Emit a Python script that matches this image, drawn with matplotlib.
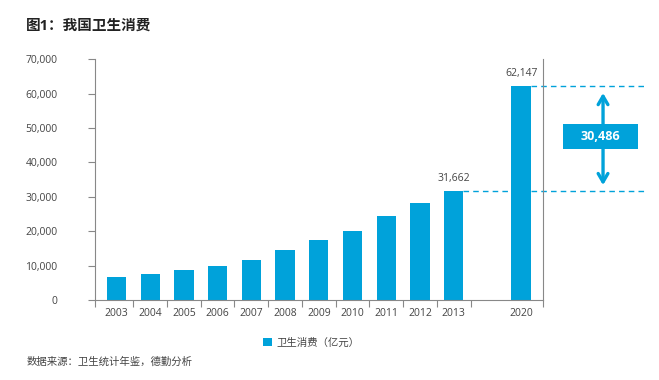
import numpy as np
import matplotlib.pyplot as plt
from matplotlib.patches import Rectangle

plt.rcParams['font.family'] = ['Open Sans', 'Noto Sans CJK SC', 'DejaVu Sans']

years = ['2003', '2004', '2005', '2006', '2007', '2008', '2009',
         '2010', '2011', '2012', '2013', '2020']
spending = [6584, 7590, 8660, 9843, 11574, 14535, 17542,
            19980, 24346, 28119, 31662, 62147]
gap_label = '30,486'

blue = '#00a2da'
grey = '#444444'

# 2020 sits one slot further right (empty slot for the gap)
x = np.array(list(range(11)) + [12])

fig = plt.figure(figsize=(6.59, 3.80), dpi=100)
ax = fig.add_axes([0.144, 0.2105, 0.68, 0.6335])

ax.bar(x, spending, width=0.57, color=blue, label='卫生消费（亿元）', zorder=2)

ax.set_xlim(-0.64, 12.65)
ax.set_ylim(0, 70000)

ax.set_yticks(np.arange(0, 70001, 10000))
ax.set_yticklabels([f'{v:,.0f}' for v in np.arange(0, 70001, 10000)])
ax.set_xticks(x)
ax.set_xticklabels(years)
ax.set_xticks([-0.64] + [i + 0.5 for i in range(11)] + [12.65], minor=True)
ax.tick_params(axis='x', which='major', length=0, pad=6, labelsize=7.5, labelcolor=grey)
ax.tick_params(axis='x', which='minor', length=5, color='#888888', width=0.8)
ax.tick_params(axis='y', length=5, color='#888888', width=0.8, pad=22,
               labelsize=7.5, labelcolor=grey)

ax.spines['top'].set_visible(False)
for s in ['left', 'bottom', 'right']:
    ax.spines[s].set_color('#888888')
    ax.spines[s].set_linewidth(0.8)

# value labels
for i in (10, 11):
    ax.text(x[i], spending[i] + 2200, f'{spending[i]:,}', ha='center', va='bottom',
            fontsize=7.5, color=grey)

# dashed reference lines running out past the axes
for i in (10, 11):
    ax.plot([x[i] + 0.285, 15.68], [spending[i]] * 2, ls=(0, (4, 3)), color=blue,
            lw=1, clip_on=False, zorder=1)

# double arrow and difference box
ax.annotate('', xy=(14.43, 60200), xytext=(14.43, 33400), annotation_clip=False,
            arrowprops=dict(arrowstyle='<->,head_length=0.6,head_width=0.35',
                            color=blue, lw=2.4, shrinkA=0, shrinkB=0))
ax.add_patch(Rectangle((13.25, 43900), 2.22, 7260, fc=blue, ec='none',
                       clip_on=False, zorder=3))
ax.text(14.36, 47500, gap_label, ha='center', va='center', fontsize=9,
        fontweight='bold', color='white', zorder=4)

fig.text(0.04, 0.932, '图1：我国卫生消费', fontsize=10.5, fontweight='bold',
         color='#222222', va='center')
fig.text(0.04, 0.047, '数据来源：卫生统计年鉴，德勤分析', fontsize=7.5,
         color=grey, va='center')

fig.legend(loc='center', bbox_to_anchor=(0.473, 0.097), frameon=False,
           fontsize=7.5, handlelength=0.8, handleheight=0.8, handletextpad=0.5,
           labelcolor=grey)

fig.savefig('out.png', dpi=100)
